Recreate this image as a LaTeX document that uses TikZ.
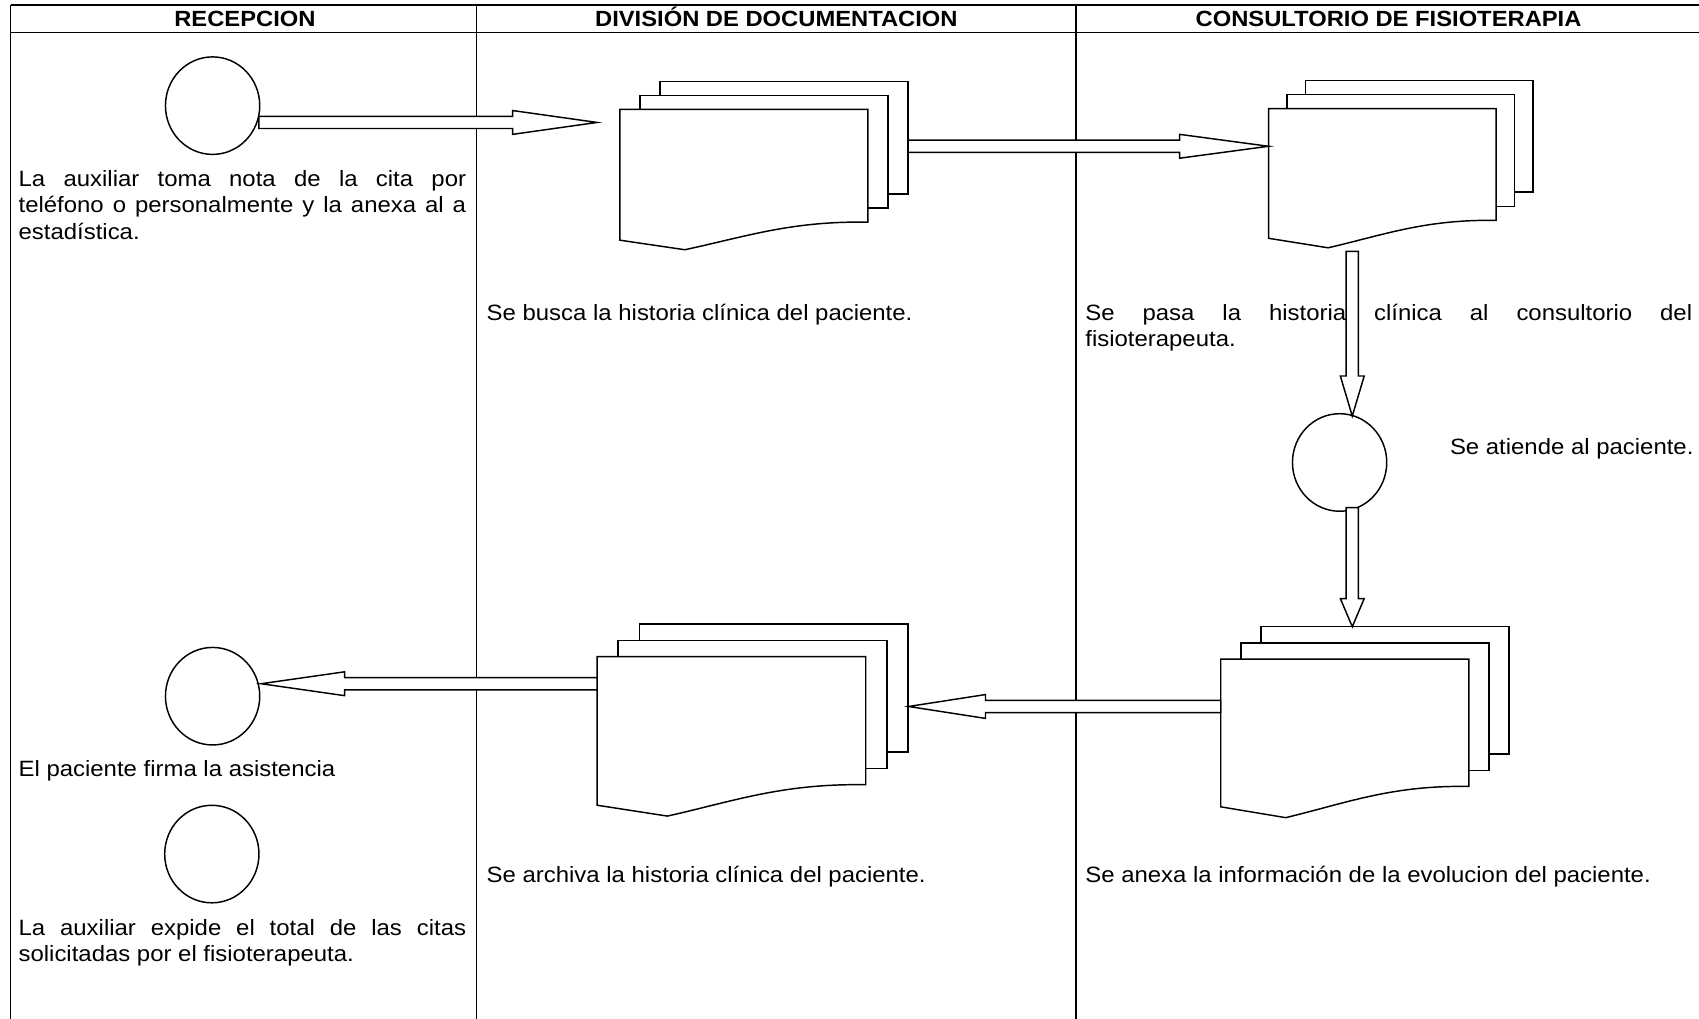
\documentclass[tikz,border=0pt]{standalone}
\usepackage{fontspec}
\setmainfont{Liberation Sans}[FakeStretch=1.08]
\usetikzlibrary{calc,shapes.geometric}
\tolerance=10000 \hbadness=10000

\newcommand\bsw{5.6pt}
\newcommand\bhw{11pt}

% multi-document symbol: #1 name, #2 left, #3 top, #4 width, #5 height, #6 dx, #7 dy
\newcommand\multidoc[7]{%
  \draw[shp] (#2+2*#6,#3-2*#7) rectangle ++(#4,#5);
  \draw[shp] (#2+#6,#3-#7) rectangle ++(#4,#5);
  \draw[shp] (#2,#3) -- (#2+#4,#3) -- (#2+#4,#3+#5)
    .. controls (#2+0.69*#4,#3+0.99*#5) and (#2+0.515*#4,#3+1.125*#5) .. (#2+0.262*#4,#3+1.245*#5)
    -- (#2,#3+1.16*#5) -- cycle;
  \node[inner sep=0pt,minimum width=#4pt,minimum height=#5pt,anchor=north west] (#1) at (#2,#3) {};
}

% block arrow: #1 tail, #2 tip, #3 head length
\newcommand\blockarrow[3]{%
  \coordinate (ba-hb) at ($(#2)!#3pt!(#1)$);
  \draw[shp] ($(#1)!\bsw!90:(#2)$) -- ($(ba-hb)!\bsw!-90:(#1)$) -- ($(ba-hb)!\bhw!-90:(#1)$)
    -- (#2) -- ($(ba-hb)!\bhw!90:(#1)$) -- ($(ba-hb)!\bsw!90:(#1)$) -- ($(#1)!\bsw!-90:(#2)$) -- cycle;
}

\begin{document}
\begin{tikzpicture}[x=1pt,y=-1pt,
  shp/.style={draw=black,line width=1.35pt,fill=white,line join=miter},
  gridline/.style={draw=black,line width=1.1pt},
  hline/.style={draw=black,line width=1.4pt},
  circ/.style={shp,ellipse,minimum width=87pt,minimum height=90pt,inner sep=0pt},
  txt/.style={inner sep=0pt,anchor=base west,font=\fontsize{20.45}{24.4}\selectfont,align=left},
  hdr/.style={inner sep=0pt,anchor=base,font=\fontsize{20.3}{24.4}\selectfont\bfseries},
]
\useasboundingbox (0,0) rectangle (1568,940);
\fill[white] (0,0) rectangle (1568,940);

% table
\draw[hline] (10,4.6) -- (1568,4.6);
\draw[hline] (10,30) -- (1568,30);
\draw[gridline] (10,4.6) -- (10,940);
\draw[gridline] (440,4.6) -- (440,940);
\draw[gridline] (993,4.6) -- (993,940);

\node[hdr] (h1) at (226,24.6) {RECEPCION};
\node[hdr] (h2) at (716.5,24.6) {DIVISIÓN DE DOCUMENTACION};
\node[hdr] (h3) at (1281.5,24.6) {CONSULTORIO DE FISIOTERAPIA};

% texts (base anchor = baseline of the last line)
\node[txt] (t1) at (17,220.7) {\makebox[413pt][s]{La auxiliar toma nota de la cita por}\\\makebox[413pt][s]{teléfono o personalmente y la anexa al a}\\estadística.};
\node[txt] (t2) at (449,295.7) {Se busca la historia clínica del paciente.};
\node[txt] (t3) at (1001.5,320) {\makebox[560pt][s]{Se pasa la historia clínica al consultorio del}\\fisioterapeuta.};
\node[txt] (t4) at (1338,419) {Se atiende al paciente.};
\node[txt] (t5) at (17,716.6) {El paciente firma la asistencia};
\node[txt] (t6) at (449,814.7) {Se archiva la historia clínica del paciente.};
\node[txt] (t7) at (1001.5,814.7) {Se anexa la información de la evolucion del paciente.};
\node[txt] (t8) at (17,887.8) {\makebox[413pt][s]{La auxiliar expide el total de las citas}\\solicitadas por el fisioterapeuta.};

% events
\node[circ] (c1) at (196.2,97.5) {};
\node[circ] (c2) at (196.2,642.5) {};
\node[circ] (c3) at (1236.3,426.8) {};
\node[circ] (c4) at (195.5,788.2) {};

% documents
\multidoc{d1}{572}{101}{229}{104}{18.5}{13}
\multidoc{d2}{1170.7}{100.2}{210}{103.2}{17}{13}
\multidoc{d3}{1126.6}{608.2}{229}{117.6}{18.5}{14.9}
\multidoc{d4}{551}{606}{248}{118.2}{19.5}{15}

% connectors
\coordinate (a1s) at (239,113);     \coordinate (a1e) at (551,113);
\coordinate (a2s) at (838,135);     \coordinate (a2e) at (1170.7,135);
\coordinate (a3s) at (1248,232);    \coordinate (a3e) at (1248,384);
\coordinate (a4s) at (1248,468.5);  \coordinate (a4e) at (1248,578.4);
\coordinate (a5s) at (1126.6,652);  \coordinate (a5e) at (838.5,652);
\coordinate (a6s) at (551,631);     \coordinate (a6e) at (241,631);
\blockarrow{a1s}{a1e}{78}
\blockarrow{a2s}{a2e}{82}
\blockarrow{a3s}{a3e}{37}
\blockarrow{a4s}{a4e}{26}
\blockarrow{a5s}{a5e}{71}
\blockarrow{a6s}{a6e}{77}
\end{tikzpicture}
\end{document}
